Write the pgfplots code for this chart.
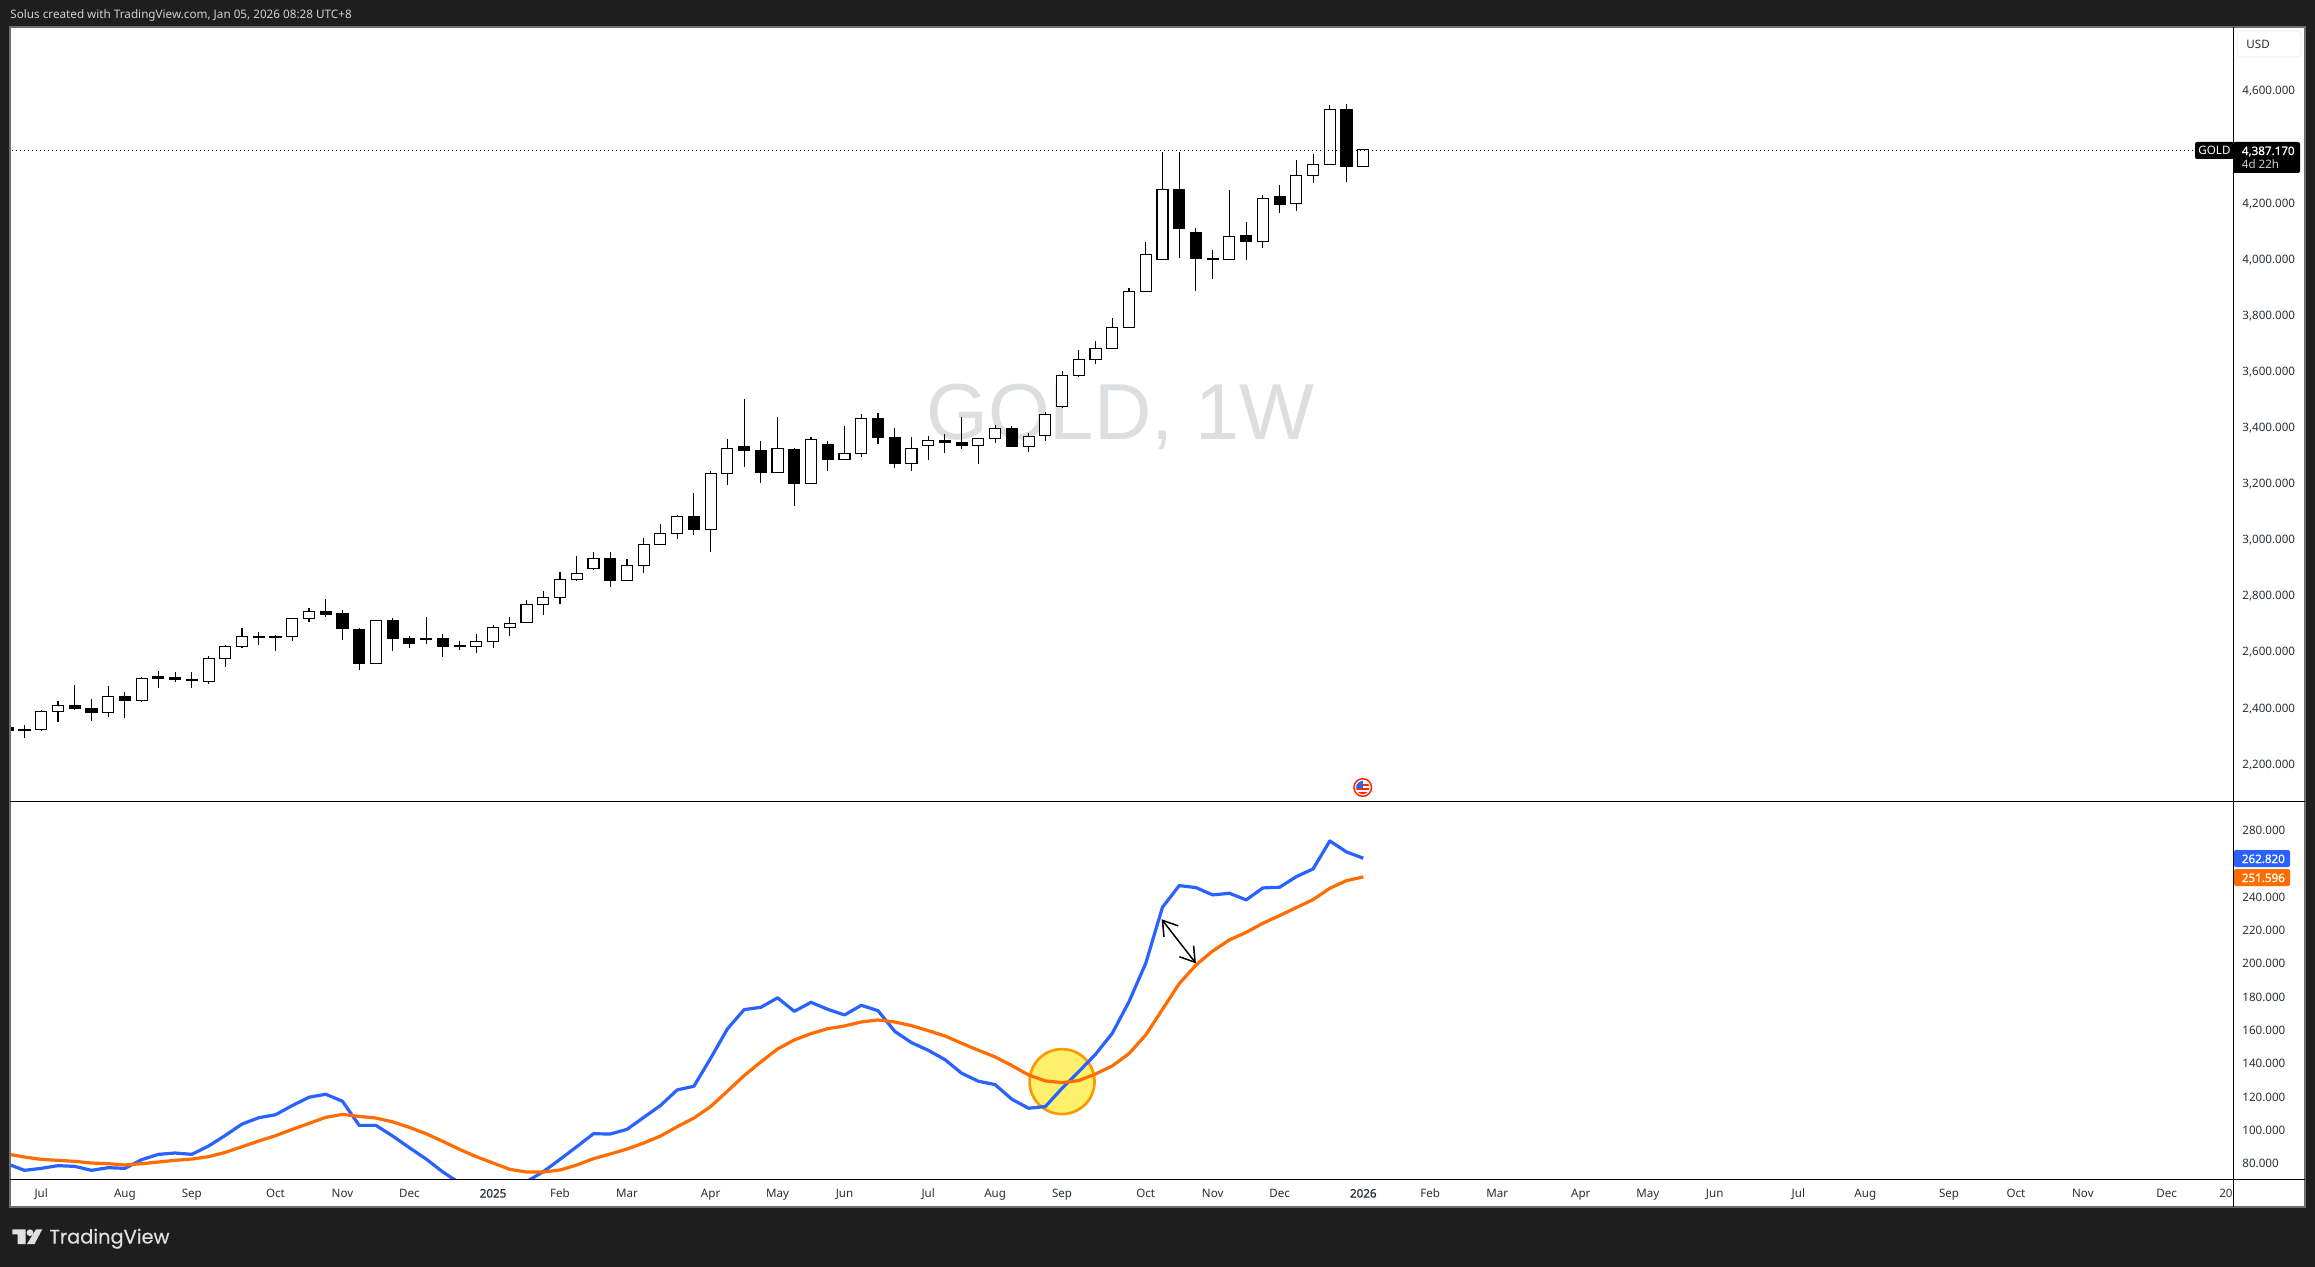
\documentclass[border=0pt]{standalone}
\usepackage{pgfplots}
\usepackage{pgfplotstable}
\usepackage{fontspec}
\pgfplotsset{compat=1.18}
\usetikzlibrary{arrows.meta}
\setmainfont{Noto Sans}
\newfontfamily\wmfont{Liberation Sans}
\newfontfamily\logofont[FakeBold=0.5]{Poppins}
\newfontfamily\tagfont[FakeBold=0.7]{Noto Sans}
\definecolor{bg}{HTML}{1E1E1E}
\definecolor{frameg}{HTML}{6E6E6E}
\definecolor{wm}{HTML}{DDDEE0}
\definecolor{tvblue}{HTML}{2962FF}
\definecolor{tvorange}{HTML}{FF6D00}
\definecolor{lab}{HTML}{2A2E39}
\definecolor{ringy}{HTML}{FF9800}
\definecolor{filly}{HTML}{FFF06B}

\pgfplotstableread{
i o h l c
-1 2327.8 2330 2313 2315.9
0 2320.7 2336.1 2291.0 2315.9
1 2320.7 2389.6 2315.9 2384.8
2 2384.8 2421.7 2348.0 2406.2
3 2406.2 2478.7 2389.6 2394.4
4 2395.5 2427.6 2351.6 2380.1
5 2381.3 2475.2 2365.8 2438.3
6 2438.3 2453.8 2362.3 2422.9
7 2424.1 2507.2 2419.3 2502.5
8 2507.2 2528.6 2469.2 2501.3
9 2506.1 2525.1 2490.6 2497.7
10 2496.5 2525.1 2469.2 2494.2
11 2491.8 2582.1 2483.5 2573.8
12 2573.8 2621.3 2544.1 2616.6
13 2616.6 2681.9 2611.8 2652.2
14 2652.2 2667.7 2622.5 2647.5
15 2652.2 2657.0 2601.1 2647.5
16 2652.2 2716.4 2636.8 2716.4
17 2716.4 2753.2 2704.5 2741.4
18 2741.4 2785.3 2722.3 2729.5
19 2731.9 2746.1 2640.3 2679.5
20 2677.2 2681.9 2533.4 2554.8
21 2556.0 2709.3 2556.0 2709.3
22 2709.3 2717.6 2601.1 2643.9
23 2645.1 2653.4 2611.8 2626.1
24 2642.7 2721.2 2626.1 2640.3
25 2645.1 2660.6 2579.7 2615.4
26 2617.8 2635.6 2604.7 2615.4
27 2616.6 2660.6 2594.0 2634.4
28 2634.4 2691.4 2611.8 2684.3
29 2684.3 2721.2 2654.6 2698.6
30 2702.1 2780.6 2702.1 2766.3
31 2766.3 2813.9 2729.5 2791.3
32 2791.3 2880.4 2768.7 2855.4
33 2855.4 2938.6 2849.5 2876.8
34 2894.7 2952.9 2889.9 2930.3
35 2930.3 2952.9 2829.3 2850.7
36 2851.9 2927.9 2851.9 2905.4
37 2905.4 3002.8 2879.2 2980.2
38 2980.2 3052.7 2980.2 3019.4
39 3019.4 3084.8 3000.4 3080.1
40 3080.0 3163.2 3014.7 3032.5
41 3033.7 3240.5 2954.1 3233.3
42 3233.3 3355.7 3192.9 3322.5
43 3329.6 3498.3 3257.1 3314.1
44 3315.3 3348.6 3200.0 3235.7
45 3236.9 3434.2 3236.9 3322.5
46 3318.9 3323.6 3118.1 3196.5
47 3197.7 3362.9 3197.7 3354.6
48 3336.7 3348.6 3242.8 3282.1
49 3283.2 3402.1 3283.2 3304.6
50 3304.6 3444.9 3292.8 3429.4
51 3429.4 3448.4 3339.1 3360.5
52 3361.7 3395.0 3253.5 3267.8
53 3269.0 3362.9 3242.8 3322.5
54 3333.2 3366.4 3282.1 3351.0
55 3351.0 3373.6 3307.0 3342.7
56 3343.9 3434.2 3321.3 3332.0
57 3333.2 3358.1 3267.8 3358.1
58 3358.1 3404.5 3342.7 3393.8
59 3393.8 3400.9 3328.4 3328.4
60 3329.6 3376.0 3310.6 3365.2
61 3368.8 3450.8 3349.8 3443.7
62 3471.0 3597.0 3467.4 3582.7
63 3582.7 3673.0 3578.0 3639.8
64 3639.8 3704.0 3624.3 3679.0
65 3679.0 3785.9 3679.0 3753.8
66 3753.9 3894.1 3753.9 3882.2
67 3882.2 4058.1 3882.2 4014.1
68 3996.3 4379.0 3996.3 4245.9
69 4245.9 4379.0 4002.2 4105.6
70 4092.6 4108.0 3884.6 3998.7
71 3999.9 4029.6 3927.4 3997.5
72 3996.3 4243.5 3996.3 4078.3
73 4081.9 4129.4 3995.1 4059.3
74 4060.5 4224.5 4037.9 4213.8
75 4220.9 4260.0 4162.7 4191.2
76 4196.0 4350.4 4169.8 4295.8
77 4295.8 4371.8 4269.6 4335.0
78 4335.0 4546.5 4335.0 4531.0
79 4531.0 4550.0 4273.2 4326.7
80 4328.0 4387.17 4328.0 4387.17
}\goldweekly

\pgfplotstableread{
i fast slow
-1 79.2 85.2
0 75.4 83.4
1 76.6 82.0
2 78.2 81.4
3 77.8 80.8
4 75.4 79.8
5 77.0 79.4
6 76.6 78.6
7 81.8 79.4
8 85.0 80.4
9 85.8 81.4
10 85.0 82.2
11 90.0 83.6
12 96.4 86.2
13 103.2 89.6
14 107.0 93.0
15 108.8 96.2
16 114.3 100.0
17 119.3 103.6
18 121.1 107.2
19 116.9 109.0
20 102.4 107.8
21 102.4 106.8
22 96.0 104.5
23 89.0 101.2
24 82.2 97.4
25 74.4 92.8
26 67.8 88.0
27 62.6 83.6
28 59.6 79.8
29 60.6 76.0
30 68.6 74.4
31 74.6 74.4
32 82.0 75.6
33 89.6 78.6
34 97.4 82.4
35 97.2 85.2
36 100.0 88.2
37 107.2 91.8
38 114.3 96.0
39 123.7 101.6
40 125.9 106.8
41 142.7 113.7
42 160.3 122.9
43 171.9 132.3
44 173.3 140.5
45 179.0 148.3
46 170.9 153.7
47 176.3 157.5
48 172.1 160.5
49 168.7 162.1
50 174.5 164.5
51 171.3 165.7
52 158.9 164.5
53 152.1 162.3
54 147.5 159.3
55 141.9 156.1
56 133.7 151.7
57 128.9 147.5
58 126.9 143.5
59 118.1 138.3
60 112.7 132.7
61 113.7 129.1
62 124.7 128.1
63 134.7 129.3
64 145.1 133.3
65 157.7 138.1
66 176.7 145.5
67 199.7 156.7
68 233.4 172.1
69 246.4 187.5
70 245.2 198.7
71 240.8 207.1
72 241.8 213.8
73 237.8 218.3
74 245.0 223.8
75 245.4 228.4
76 251.8 233.2
77 256.4 238.0
78 273.2 244.8
79 266.6 249.4
80 262.82 251.596
}\oscillator

\pgfplotsset{
  paneaxis/.style={
    scale only axis,
    anchor=south west,
    xmin=-0.866, xmax=131.97,
    axis line style={draw=none},
    major tick length=0pt,
    minor tick num=0,
    yticklabel pos=right,
    y tick label style={anchor=base west,inner sep=0pt,xshift=4.5pt,yshift=-2.5pt,
      font=\fontsize{5.8}{7}\selectfont,text=lab},
    /pgf/number format/.cd,fixed,fixed zerofill,precision=3,1000 sep={,},assume math mode=true,
  },
}

\begin{document}
\begin{tikzpicture}[x=0.5pt,y=-0.5pt]
% page and panes
\fill[bg] (0,0) rectangle (2315,1267);
\fill[white] (10,27) rectangle (2305,1207);
\node[anchor=base west,inner sep=0pt,text=wm,font=\wmfont\fontsize{39.7}{48}\selectfont] at (926,440) {GOLD, 1W};

% price pane
\begin{axis}[paneaxis,at={(5pt,-400.5pt)},width=1111.5pt,height=387pt,
  ymin=2065,ymax=4824.6,xtick=\empty,
  ytick={2200,2400,2600,2800,3000,3200,3400,3600,3800,4000,4200,4400,4600}]
\pgfplotsforeachungrouped \r in {0,...,81}{%
  \pgfplotstablegetelem{\r}{i}\of\goldweekly\let\vi\pgfplotsretval
  \pgfplotstablegetelem{\r}{o}\of\goldweekly\let\vo\pgfplotsretval
  \pgfplotstablegetelem{\r}{h}\of\goldweekly\let\vh\pgfplotsretval
  \pgfplotstablegetelem{\r}{l}\of\goldweekly\let\vl\pgfplotsretval
  \pgfplotstablegetelem{\r}{c}\of\goldweekly\let\vc\pgfplotsretval
  \ifdim\vc pt<\vo pt \def\cf{black}\else \def\cf{white}\fi
  \pgfmathsetmacro\xl{\vi-0.33}%
  \pgfmathsetmacro\xr{\vi+0.33}%
  \edef\temp{%
    \noexpand\addplot[black,line width=0.55pt,forget plot] coordinates {(\vi,\vl) (\vi,\vh)};
    \noexpand\addplot[draw=black,fill=\cf,line width=0.55pt,forget plot] coordinates {(\xl,\vo) (\xr,\vo) (\xr,\vc) (\xl,\vc)} -- cycle;
  }%
  \temp
}
\addplot[black,line width=0.6pt,dash pattern=on 0.6pt off 1.4pt] coordinates {(-1,4385) (132,4385)};
\end{axis}

% oscillator pane
\begin{axis}[paneaxis,at={(5pt,-589.5pt)},width=1111.5pt,height=189pt,
  ymin=70.2,ymax=297.2,
  ytick={80,100,120,140,160,180,200,220,240,260,280},
  yticklabels={80.000,100.000,120.000,140.000,160.000,180.000,200.000,220.000,240.000,,280.000},
  xtick={1,6,10,15,19,23,28,32,36,41,45,49,54,58,62,67,71,75,80,84,88,93,97,101,106,110,115,119,123,128,131.55},
  xticklabels={Jul,Aug,Sep,Oct,Nov,Dec,{\tagfont 2025},Feb,Mar,Apr,May,Jun,Jul,Aug,Sep,Oct,Nov,Dec,{\tagfont 2026},Feb,Mar,Apr,May,Jun,Jul,Aug,Sep,Oct,Nov,Dec,20},
  x tick label style={anchor=base,inner sep=0pt,yshift=-9.25pt,
    font=\fontsize{5.8}{7}\selectfont,text=lab}]
\draw[ringy,fill=filly,line width=1.3pt] (axis cs:62,128.7) circle[radius=16.25pt];
\addplot[tvblue,line width=1.6pt,line join=round] table[x=i,y=fast] {\oscillator};
\addplot[tvorange,line width=1.6pt,line join=round] table[x=i,y=slow] {\oscillator};
\draw[black,line width=0.75pt,{Straight Barb[length=7pt,width=9pt]}-{Straight Barb[length=7pt,width=9pt]}] (axis cs:67.95,226.2) -- (axis cs:70,199.7);
\end{axis}

% pane rules
\draw[frameg,line width=0.6pt] (10,27) rectangle (2305,1207);
\draw[black,line width=0.5pt] (10,801) -- (2305,801);
\draw[black,line width=0.5pt] (10,1179) -- (2305,1179);
\draw[black,line width=0.5pt] (2233,27) -- (2233,1207);

% header
\node[anchor=base west,inner sep=0pt,text=white!82!black,font=\fontsize{5.85}{7}\selectfont] at (10,19) {Solus created with TradingView.com, Jan 05, 2026 08:28 UTC+8};

% USD box
\draw[black!6,fill=white,rounded corners=2pt,line width=0.5pt] (2237,31) rectangle (2301,57);
\node[anchor=base west,inner sep=0pt,text=lab,font=\fontsize{5.8}{7}\selectfont] at (2246,49) {USD};

% last price tag
\fill[black,rounded corners=1pt] (2195,142) rectangle (2234,159);
\node[anchor=base,inner sep=0pt,text=white,font=\fontsize{5.8}{7}\selectfont] at (2214.5,155) {GOLD};
\fill[black,rounded corners=1pt] (2233,142) rectangle (2300,173);
\node[anchor=base west,inner sep=0pt,text=white,font=\tagfont\fontsize{5.8}{7}\selectfont] at (2241.5,155) {4,387.170};
\node[anchor=base west,inner sep=0pt,text=white!80!black,font=\fontsize{5.8}{7}\selectfont] at (2241.5,169) {4d 22h};

% indicator tags
\fill[tvblue,rounded corners=1pt] (2234,850) rectangle (2290,867);
\node[anchor=base west,inner sep=0pt,text=white,font=\tagfont\fontsize{5.8}{7}\selectfont] at (2241.5,863) {262.820};
\fill[tvorange,rounded corners=1pt] (2234,869) rectangle (2290,886);
\node[anchor=base west,inner sep=0pt,text=white,font=\tagfont\fontsize{5.8}{7}\selectfont] at (2241.5,882) {251.596};

% flag icon
\draw[red!70!orange,line width=0.75pt,fill=white] (1362.7,787.5) circle[radius=4.4pt];
\begin{scope}
\clip (1362.7,787.5) circle[radius=3.3pt];
\fill[white] (1355,780) rectangle (1371,796);
\fill[red!70!orange] (1355,784) rectangle (1371,786);
\fill[red!70!orange] (1355,788) rectangle (1371,790);
\fill[red!70!orange] (1355,792) rectangle (1371,795);
\fill[tvblue] (1355,780) rectangle (1363,788);
\end{scope}

% logo
\fill[white!88!black] (12.3,1229.3) -- (25.7,1229.3) -- (25.7,1244) -- (17.7,1244) -- (17.7,1234.3) -- (12.3,1234.3) -- cycle;
\fill[white!88!black] (30,1232.7) circle[radius=1.7pt];
\fill[white!88!black] (36,1229.3) -- (42.3,1229.3) -- (34.5,1244) -- (27,1244) -- cycle;
\node[anchor=base west,inner sep=0pt,text=white!88!black,font=\logofont\fontsize{9.7}{11}\selectfont] at (49,1243.5) {TradingView};

\pgfresetboundingbox
\path[use as bounding box] (0,0) rectangle (2315,1267);
\end{tikzpicture}
\end{document}
